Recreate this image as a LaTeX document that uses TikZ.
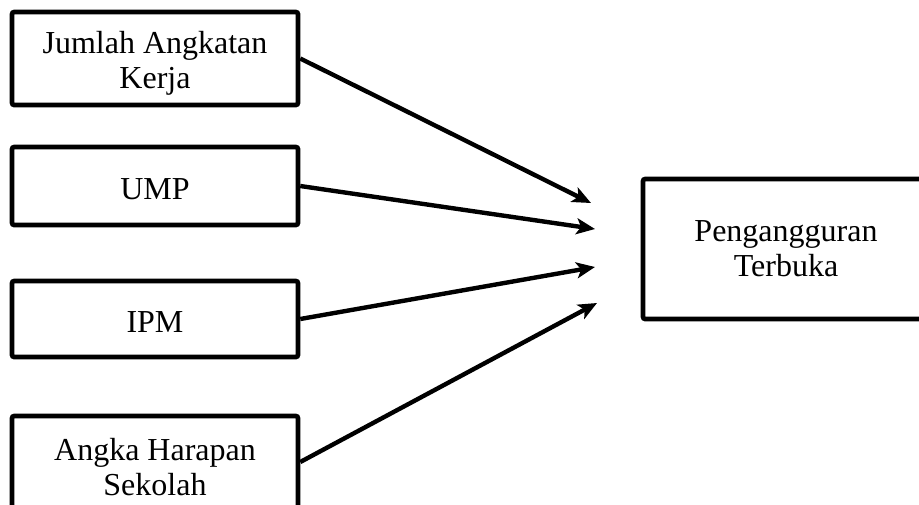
\documentclass[tikz,border=0pt]{standalone}
\usepackage{fontspec}
\setmainfont{Liberation Serif}
\usetikzlibrary{arrows.meta}

\begin{document}
\begin{tikzpicture}[x=0.75pt,y=-0.75pt,
  varbox/.style={draw,line width=3.4pt,rounded corners=1.5pt,minimum width=214.5pt,
    align=center,inner sep=0pt,font=\fontsize{24}{26.25}\selectfont},
  pengaruh/.style={line width=3.3pt,-{Stealth[length=14pt,width=12pt,inset=3.5pt]}}]
\clip (0,0) rectangle (919,504);

\node[varbox,minimum height=69.75pt] (JAK) at (155,58.5) {\rule{0pt}{24pt}Jumlah Angkatan\\Kerja};
\node[varbox,minimum height=58.5pt] (UMP) at (155,186) {\rule{0pt}{20pt}UMP};
\node[varbox,minimum height=57pt] (IPM) at (155,319) {\rule{0pt}{20pt}IPM};
\node[varbox,minimum height=69pt] (AHS) at (155,462) {\rule{0pt}{24pt}Angka Harapan\\Sekolah};

\node[varbox,minimum height=105pt] (PT) at (786,249) {Pengangguran\\Terbuka};

\coordinate (T1) at (591,203);
\coordinate (T2) at (595,229);
\coordinate (T3) at (595,267);
\coordinate (T4) at (597,303);

\draw[pengaruh] (JAK.east) -- (T1);
\draw[pengaruh] (UMP.east) -- (T2);
\draw[pengaruh] (IPM.east) -- (T3);
\draw[pengaruh] (AHS.east) -- (T4);

\end{tikzpicture}
\end{document}
